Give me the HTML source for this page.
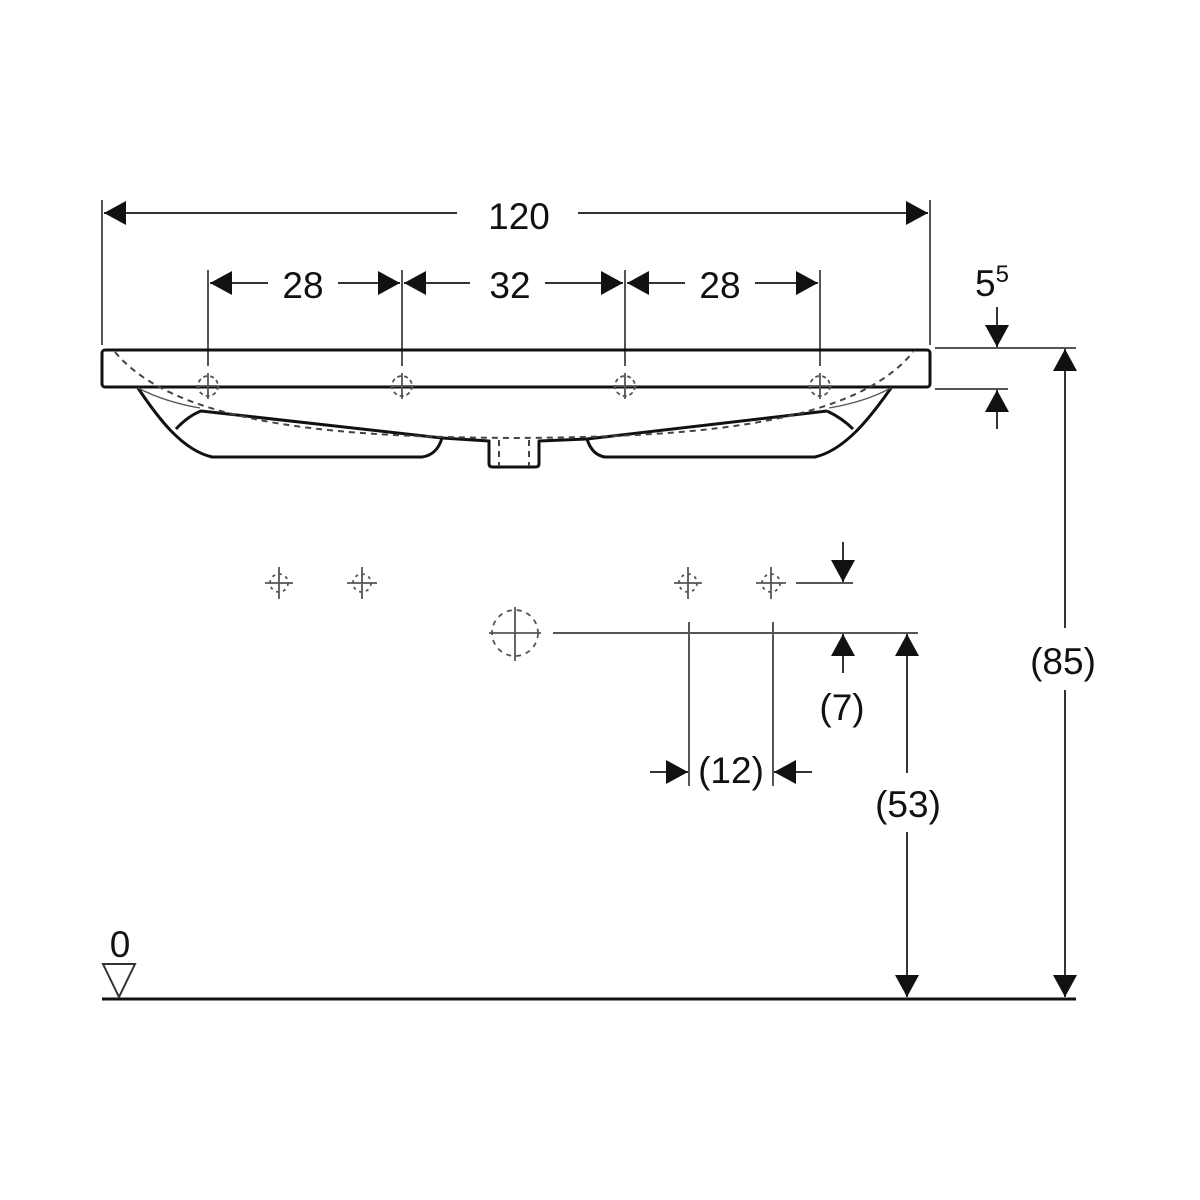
<!DOCTYPE html>
<html><head><meta charset="utf-8"><style>html,body{margin:0;padding:0;background:#fff}svg{display:block}text{font-family:"Liberation Sans",Arial,sans-serif;fill:#111}</style></head><body>
<svg width="1200" height="1200" viewBox="0 0 1200 1200" xmlns="http://www.w3.org/2000/svg">
<defs>
<marker id="a" viewBox="0 0 22 24" refX="22" refY="12" markerWidth="22" markerHeight="24" markerUnits="userSpaceOnUse" orient="auto"><path d="M0,0 L22,12 L0,24Z" fill="#111"/></marker>
</defs>
<g stroke="#555" stroke-width="2" fill="none">
<line x1="102" y1="200" x2="102" y2="345"/>
<line x1="930" y1="200" x2="930" y2="345"/>
<line x1="208" y1="270" x2="208" y2="366"/>
<line x1="402" y1="270" x2="402" y2="366"/>
<line x1="625" y1="270" x2="625" y2="366"/>
<line x1="820" y1="270" x2="820" y2="366"/>
<line x1="935" y1="348" x2="1076" y2="348"/>
<line x1="935" y1="389" x2="1008" y2="389"/>
<line x1="553" y1="633" x2="918" y2="633"/>
<line x1="796" y1="583" x2="853" y2="583"/>
<line x1="689" y1="622" x2="689" y2="786"/>
<line x1="773" y1="622" x2="773" y2="786"/>
</g>
<g stroke="#333" stroke-width="2" fill="none">
<line x1="457" y1="213" x2="104" y2="213" marker-end="url(#a)"/>
<line x1="578" y1="213" x2="928" y2="213" marker-end="url(#a)"/>
<line x1="268" y1="283" x2="210" y2="283" marker-end="url(#a)"/>
<line x1="338" y1="283" x2="400" y2="283" marker-end="url(#a)"/>
<line x1="470" y1="283" x2="404" y2="283" marker-end="url(#a)"/>
<line x1="545" y1="283" x2="623" y2="283" marker-end="url(#a)"/>
<line x1="685" y1="283" x2="627" y2="283" marker-end="url(#a)"/>
<line x1="755" y1="283" x2="818" y2="283" marker-end="url(#a)"/>
<line x1="997" y1="307" x2="997" y2="347" marker-end="url(#a)"/>
<line x1="997" y1="429" x2="997" y2="390" marker-end="url(#a)"/>
<line x1="843" y1="542" x2="843" y2="582" marker-end="url(#a)"/>
<line x1="843" y1="673" x2="843" y2="634" marker-end="url(#a)"/>
<line x1="650" y1="772" x2="688" y2="772" marker-end="url(#a)"/>
<line x1="812" y1="772" x2="774" y2="772" marker-end="url(#a)"/>
<line x1="907" y1="773" x2="907" y2="634" marker-end="url(#a)"/>
<line x1="907" y1="832" x2="907" y2="997" marker-end="url(#a)"/>
<line x1="1065" y1="628" x2="1065" y2="349" marker-end="url(#a)"/>
<line x1="1065" y1="690" x2="1065" y2="997" marker-end="url(#a)"/>
</g>
<g stroke="#111" stroke-width="3" fill="none" stroke-linejoin="round">
<rect x="102" y="350" width="828" height="37" rx="3"/>
<path d="M138,388 C158,418 182,450 212,457 L422,457 Q437,455 442,438"/>
<path d="M176,429 Q188,416 201,411 L442,438 L489,441 L489,464 Q489,467 493,467 L535,467 Q539,467 539,464 L539,441 L587,439 L827,411"/>
<path d="M587,439 Q592,455 605,457 L815,457 C845,450 870,418 891,388"/>
<path d="M827,411 Q842,418 853,429"/>
</g>
<g stroke="#555" stroke-width="1.3" fill="none">
<path d="M138,388 Q165,402 200,408"/>
<path d="M891,388 Q865,402 829,408"/>
</g>
<g stroke="#444" stroke-width="2" fill="none" stroke-dasharray="6,5">
<path d="M115,352 C180,430 360,437 514,438 C670,437 850,430 913,352"/>
<path d="M499,440 L499,466 M529,440 L529,466"/>
</g>
<g stroke="#555" stroke-width="1.8" fill="none">
<g transform="translate(208,386)"><circle r="10" stroke-dasharray="4,3"/><line x1="-12" y1="0" x2="12" y2="0"/><line x1="0" y1="-13" x2="0" y2="13"/></g>
<g transform="translate(402,386)"><circle r="10" stroke-dasharray="4,3"/><line x1="-12" y1="0" x2="12" y2="0"/><line x1="0" y1="-13" x2="0" y2="13"/></g>
<g transform="translate(625,386)"><circle r="10" stroke-dasharray="4,3"/><line x1="-12" y1="0" x2="12" y2="0"/><line x1="0" y1="-13" x2="0" y2="13"/></g>
<g transform="translate(820,386)"><circle r="10" stroke-dasharray="4,3"/><line x1="-12" y1="0" x2="12" y2="0"/><line x1="0" y1="-13" x2="0" y2="13"/></g>
<g transform="translate(279,583)"><circle r="9" stroke-dasharray="3,4"/><line x1="-14" y1="0" x2="14" y2="0"/><line x1="0" y1="-16" x2="0" y2="16"/></g>
<g transform="translate(362,583)"><circle r="9" stroke-dasharray="3,4"/><line x1="-15" y1="0" x2="15" y2="0"/><line x1="0" y1="-16" x2="0" y2="16"/></g>
<g transform="translate(688,583)"><circle r="9" stroke-dasharray="3,4"/><line x1="-14" y1="0" x2="14" y2="0"/><line x1="0" y1="-16" x2="0" y2="16"/></g>
<g transform="translate(771,583)"><circle r="9" stroke-dasharray="3,4"/><line x1="-15" y1="0" x2="15" y2="0"/><line x1="0" y1="-16" x2="0" y2="16"/></g>
<g transform="translate(515,633)"><circle r="23" stroke-dasharray="5,5"/><line x1="-26" y1="0" x2="26" y2="0"/><line x1="0" y1="-26" x2="0" y2="28"/></g>
</g>
<line x1="102" y1="999" x2="1076" y2="999" stroke="#111" stroke-width="3"/>
<path d="M103,964 L135,964 L119,997Z" fill="none" stroke="#333" stroke-width="2"/>
<g font-size="37" text-anchor="middle">
<text x="519" y="229">120</text>
<text x="303" y="298">28</text>
<text x="510" y="298">32</text>
<text x="720" y="298">28</text>
<text x="992" y="296">5<tspan font-size="24" dy="-14">5</tspan></text>
<text x="842" y="720">(7)</text>
<text x="731" y="783">(12)</text>
<text x="908" y="817">(53)</text>
<text x="1063" y="674">(85)</text>
<text x="120" y="957">0</text>
</g>
</svg>
</body></html>
